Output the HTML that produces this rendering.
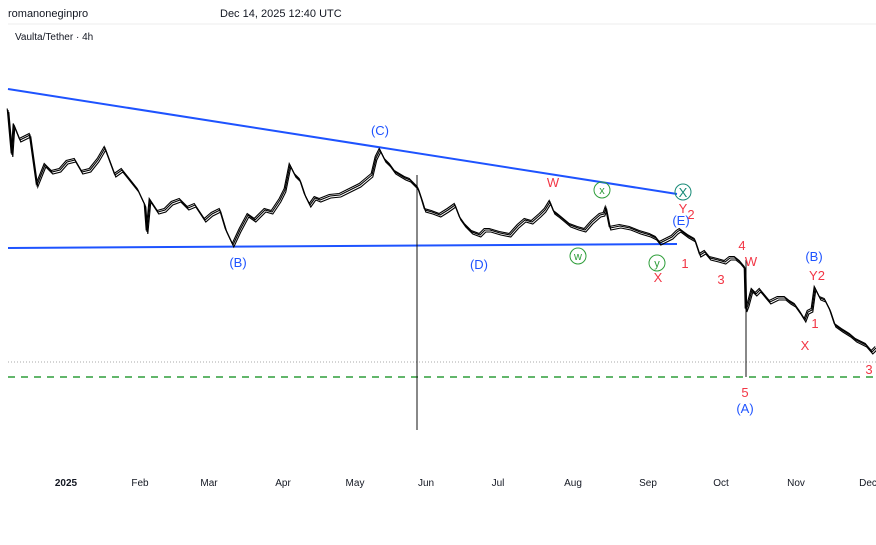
<!DOCTYPE html><html><head><style>body{margin:0;background:#fff}svg{display:block;font-family:"Liberation Sans",sans-serif}</style></head><body>
<svg width="876" height="545" viewBox="0 0 876 545">
<defs><polyline id="p" fill="none" stroke="#000" stroke-width="1.1" points="8,110 12,155 14,125 20,140 30,135 37,185 45,165 52,172 60,170 67,162 75,160 82,172 90,170 98,160 105,148 115,175 122,170 130,180 138,190 145,205 147,232 150,200 158,212 165,210 172,203 180,200 188,208 195,205 205,220 212,214 220,210 226,230 233,245 240,230 248,215 255,220 265,210 272,212 280,200 285,190 290,165 295,175 300,180 305,195 310,205 315,198 320,200 330,196 340,195 350,190 360,185 366,180 372,175 376,158 380,150 385,160 390,165 395,172 400,175 405,178 410,180 418,188 422,200 425,210 432,212 440,215 448,210 455,205 460,218 465,225 472,232 480,235 485,230 490,230 500,233 510,235 518,226 525,220 532,222 540,215 545,210 550,202 554,212 558,215 564,220 570,225 578,228 585,230 592,222 600,215 604,214 606,208 610,228 620,226 630,228 640,232 650,235 656,238 660,243 666,240 672,237 677,232 680,230 688,236 695,240 700,255 705,252 710,258 718,260 725,262 730,258 735,258 740,262 745,268 746,310 748,305 752,290 756,294 760,290 765,296 770,302 778,298 785,298 790,302 795,305 800,312 805,320 808,312 812,310 815,288 820,298 825,300 830,310 835,325 842,330 850,335 856,340 860,342 866,345 872,352 876,348"/></defs>
<rect width="876" height="545" fill="#fff"/>
<text x="8" y="17" font-size="11" fill="#131722">romanoneginpro</text>
<text x="220" y="17" font-size="11" fill="#131722">Dec 14, 2025 12:40 UTC</text>
<line x1="8" y1="24" x2="876" y2="24" stroke="#eee"/>
<text x="15" y="40" font-size="10" fill="#131722">Vaulta/Tether · 4h</text>
<line x1="8" y1="362" x2="876" y2="362" stroke="#aaa" stroke-dasharray="1,2"/>
<line x1="8" y1="377" x2="876" y2="377" stroke="#2e9e3a" stroke-width="1.5" stroke-dasharray="7,6"/>
<line x1="8" y1="89" x2="677" y2="194" stroke="#1e53ff" stroke-width="2"/>
<line x1="8" y1="248" x2="677" y2="244" stroke="#1e53ff" stroke-width="2"/>
<line x1="417" y1="175" x2="417" y2="430" stroke="#111"/>
<line x1="746" y1="260" x2="746" y2="377" stroke="#111"/>
<use href="#p"/>
<use href="#p" transform="translate(0.8,2)"/>
<use href="#p" transform="translate(-0.8,-1.5)"/>
<g font-size="13" text-anchor="middle">
<text x="380" y="135" fill="#1e53ff">(C)</text>
<text x="238" y="267" fill="#1e53ff">(B)</text>
<text x="479" y="269" fill="#1e53ff">(D)</text>
<text x="681" y="225" fill="#1e53ff">(E)</text>
<text x="814" y="261" fill="#1e53ff">(B)</text>
<text x="745" y="413" fill="#1e53ff">(A)</text>
<text x="553" y="187" fill="#f23645">W</text>
<text x="683" y="213" fill="#f23645">Y</text>
<text x="691" y="219" fill="#f23645">2</text>
<text x="658" y="282" fill="#f23645">X</text>
<text x="685" y="268" fill="#f23645">1</text>
<text x="721" y="284" fill="#f23645">3</text>
<text x="742" y="250" fill="#f23645">4</text>
<text x="751" y="266" fill="#f23645">W</text>
<text x="745" y="397" fill="#f23645">5</text>
<text x="817" y="280" fill="#f23645">Y2</text>
<text x="815" y="328" fill="#f23645">1</text>
<text x="805" y="350" fill="#f23645">X</text>
<text x="869" y="374" fill="#f23645">3</text>
</g>
<g font-size="11" text-anchor="middle" fill="#2e9e3a">
<circle cx="602" cy="190" r="8" fill="none" stroke="#2e9e3a"/><text x="602" y="194">x</text>
<circle cx="578" cy="256" r="8" fill="none" stroke="#2e9e3a"/><text x="578" y="260">w</text>
<circle cx="657" cy="263" r="8" fill="none" stroke="#2e9e3a"/><text x="657" y="267">y</text>
<circle cx="683" cy="192" r="8" fill="none" stroke="#168a76"/><text x="683" y="197" font-size="13" fill="#168a76">X</text>
</g>
<g font-size="10" fill="#131722" text-anchor="middle">
<text x="66" y="486" font-weight="bold">2025</text><text x="140" y="486">Feb</text><text x="209" y="486">Mar</text><text x="283" y="486">Apr</text><text x="355" y="486">May</text><text x="426" y="486">Jun</text><text x="498" y="486">Jul</text><text x="573" y="486">Aug</text><text x="648" y="486">Sep</text><text x="721" y="486">Oct</text><text x="796" y="486">Nov</text><text x="868" y="486">Dec</text>
</g>
</svg></body></html>
